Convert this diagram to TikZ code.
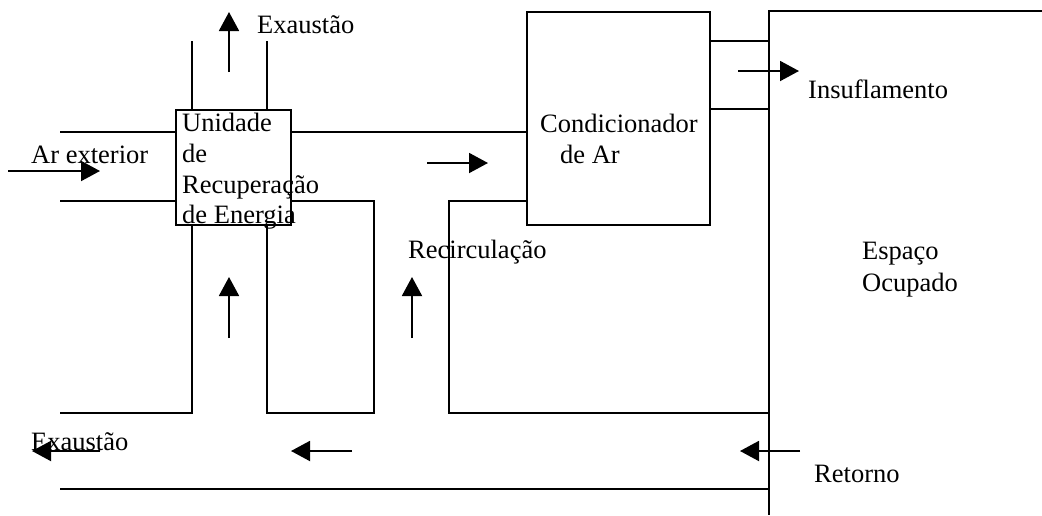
\documentclass[tikz,border=0pt]{standalone}
\usepackage{fontspec}
\setmainfont{Liberation Serif}
\usetikzlibrary{arrows.meta}
\begin{document}
\begin{tikzpicture}[x=1pt,y=-1pt,
  duct/.style={line width=1.9pt},
  flow/.style={line width=1.9pt,-{Triangle[length=19pt,width=20pt]}},
  lbl/.style={anchor=base west,inner sep=0pt,font=\fontsize{26.5}{31}\selectfont},
  box/.style={draw,line width=1.9pt,inner sep=0pt,anchor=north west}]
\useasboundingbox (0,0) rectangle (1042,515);
% boxes
\node[box,minimum width=115pt,minimum height=115pt] (eru) at (175,109) {};
\node[box,minimum width=183pt,minimum height=213pt] (ac) at (526,11) {};
% occupied space
\coordinate (spTR) at (1042,11);
\coordinate (spTL) at (769,11);
\coordinate (spB) at (769,515);
\draw[duct] (spTR) -- (spTL) -- (spB);
% coordinates
\coordinate (exT1) at (192,41); \coordinate (exT1b) at (192,109);
\coordinate (exT2) at (267,41); \coordinate (exT2b) at (267,109);
\coordinate (oa1) at (60,132); \coordinate (oa1b) at (175,132);
\coordinate (oa2) at (60,201); \coordinate (oa2b) at (175,201);
\coordinate (s1) at (290,132); \coordinate (s1b) at (526,132);
\coordinate (u1) at (290,201); \coordinate (u2) at (374,201); \coordinate (u3) at (374,413);
\coordinate (u4) at (267,413); \coordinate (u5) at (267,224);
\coordinate (l1) at (192,224); \coordinate (l2) at (192,413); \coordinate (l3) at (60,413);
\coordinate (r1) at (526,201); \coordinate (r2) at (449,201); \coordinate (r3) at (449,413); \coordinate (r4) at (769,413);
\coordinate (b1) at (60,489); \coordinate (b2) at (769,489);
\coordinate (i1) at (709,41); \coordinate (i1b) at (769,41);
\coordinate (i2) at (709,109); \coordinate (i2b) at (769,109);
% ducts
\draw[duct] (exT1) -- (exT1b);
\draw[duct] (exT2) -- (exT2b);
\draw[duct] (oa1) -- (oa1b);
\draw[duct] (oa2) -- (oa2b);
\draw[duct] (s1) -- (s1b);
\draw[duct] (u1) -- (u2) -- (u3) -- (u4) -- (u5);
\draw[duct] (l1) -- (l2) -- (l3);
\draw[duct] (r1) -- (r2) -- (r3) -- (r4);
\draw[duct] (b1) -- (b2);
\draw[duct] (i1) -- (i1b);
\draw[duct] (i2) -- (i2b);
% flow arrows
\coordinate (a1s) at (229,72);  \coordinate (a1e) at (229,12);
\coordinate (a2s) at (8,171);   \coordinate (a2e) at (100,171);
\coordinate (a3s) at (427,163); \coordinate (a3e) at (488,163);
\coordinate (a4s) at (738,71);  \coordinate (a4e) at (799,71);
\coordinate (a5s) at (229,338); \coordinate (a5e) at (229,277);
\coordinate (a6s) at (412,338); \coordinate (a6e) at (412,277);
\coordinate (a7s) at (100,451); \coordinate (a7e) at (32,451);
\coordinate (a8s) at (352,451); \coordinate (a8e) at (291,451);
\coordinate (a9s) at (800,451); \coordinate (a9e) at (740,451);
\foreach \a in {1,...,9} {\draw[flow] (a\a s) -- (a\a e);}
% labels
\node[lbl] (tExT) at (257,33) {Exaustão};
\node[lbl] (tAr) at (31,163) {Ar exterior};
\node[lbl] (tU1) at (182,131) {Unidade};
\node[lbl] (tU2) at (182,162) {de};
\node[lbl] (tU3) at (182,193) {Recuperação};
\node[lbl] (tU4) at (182,223) {de Energia};
\node[lbl] (tC1) at (540,132) {Condicionador};
\node[lbl] (tC2) at (560,163) {de Ar};
\node[lbl] (tIns) at (808,98) {Insuflamento};
\node[lbl] (tRec) at (408,258) {Recirculação};
\node[lbl] (tE1) at (862,259) {Espaço};
\node[lbl] (tE2) at (862,291) {Ocupado};
\node[lbl] (tExB) at (31,450) {Exaustão};
\node[lbl] (tRet) at (814,482) {Retorno};
\end{tikzpicture}
\end{document}
